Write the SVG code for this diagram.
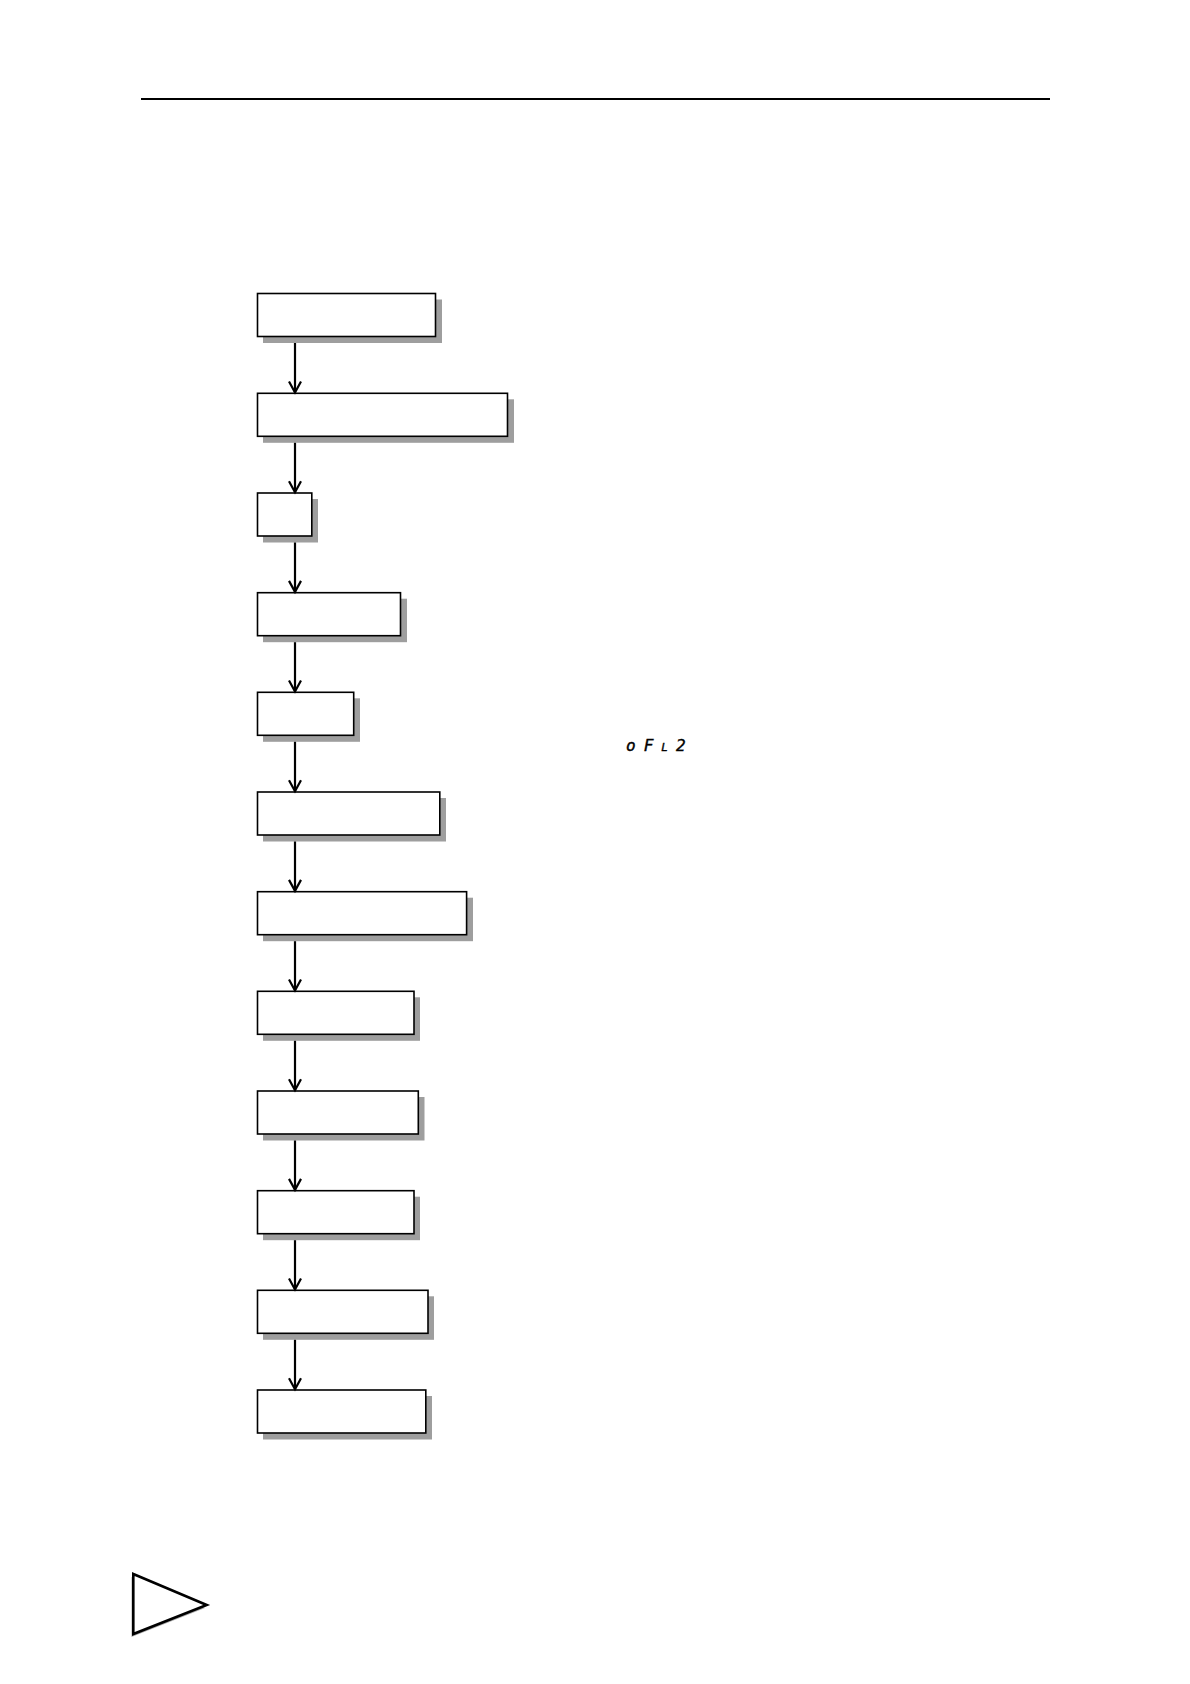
<svg xmlns="http://www.w3.org/2000/svg" width="1190" height="1684" viewBox="0 0 1190 1684">
<defs>
<style>
.box{fill:#fff;stroke:#000;stroke-width:1.6}
.sh{fill:#9e9e9e}
.conn{stroke:#000;stroke-width:2.2;fill:none}
.seg{font-family:"DejaVu Sans Mono","Liberation Mono",monospace;font-style:italic;font-size:16px;fill:#000}
</style>
<marker id="ah" markerUnits="userSpaceOnUse" markerWidth="16" markerHeight="16" viewBox="-13 -8 16 16" refX="0" refY="0" orient="auto" overflow="visible">
<polyline points="-11,-6 0,0 -11,6" fill="none" stroke="#000" stroke-width="2.2"/>
</marker>
</defs>
<rect width="1190" height="1684" fill="#fff"/>
<line x1="141" y1="99" x2="1050" y2="99" stroke="#000" stroke-width="2.2"/>
<g id="n1"><rect class="sh" x="263" y="299.5" width="179" height="43.5"/><rect class="box" x="257.5" y="293.5" width="178" height="43"/></g>
<g id="n2"><rect class="sh" x="263" y="399.3" width="251" height="43.5"/><rect class="box" x="257.5" y="393.3" width="250" height="43"/></g>
<g id="n3"><rect class="sh" x="263" y="499" width="55" height="43.5"/><rect class="box" x="257.5" y="493" width="54.3" height="43"/></g>
<g id="n4"><rect class="sh" x="263" y="598.7" width="144" height="43.5"/><rect class="box" x="257.5" y="592.7" width="143" height="43"/></g>
<g id="n5"><rect class="sh" x="263" y="698.3" width="97" height="43.5"/><rect class="box" x="257.5" y="692.3" width="96.2" height="43"/></g>
<g id="n6"><rect class="sh" x="263" y="798" width="183" height="43.5"/><rect class="box" x="257.5" y="792" width="182.3" height="43"/></g>
<g id="n7"><rect class="sh" x="263" y="897.7" width="210" height="43.5"/><rect class="box" x="257.5" y="891.7" width="209.1" height="43"/></g>
<g id="n8"><rect class="sh" x="263" y="997.3" width="157" height="43.5"/><rect class="box" x="257.5" y="991.3" width="156.5" height="43"/></g>
<g id="n9"><rect class="sh" x="263" y="1097" width="161.5" height="43.5"/><rect class="box" x="257.5" y="1091" width="160.8" height="43"/></g>
<g id="n10"><rect class="sh" x="263" y="1196.7" width="157" height="43.5"/><rect class="box" x="257.5" y="1190.7" width="156.5" height="43"/></g>
<g id="n11"><rect class="sh" x="263" y="1296.3" width="171" height="43.5"/><rect class="box" x="257.5" y="1290.3" width="170.5" height="43"/></g>
<g id="n12"><rect class="sh" x="263" y="1396" width="169" height="43.5"/><rect class="box" x="257.5" y="1390" width="168.3" height="43"/></g>
<g id="connectors">
<line class="conn" x1="295" y1="343" x2="295" y2="392.5" marker-end="url(#ah)"/>
<line class="conn" x1="295" y1="442.8" x2="295" y2="492.2" marker-end="url(#ah)"/>
<line class="conn" x1="295" y1="542.5" x2="295" y2="591.9" marker-end="url(#ah)"/>
<line class="conn" x1="295" y1="642.2" x2="295" y2="691.5" marker-end="url(#ah)"/>
<line class="conn" x1="295" y1="741.8" x2="295" y2="791.2" marker-end="url(#ah)"/>
<line class="conn" x1="295" y1="841.5" x2="295" y2="890.9" marker-end="url(#ah)"/>
<line class="conn" x1="295" y1="941.2" x2="295" y2="990.5" marker-end="url(#ah)"/>
<line class="conn" x1="295" y1="1040.8" x2="295" y2="1090.2" marker-end="url(#ah)"/>
<line class="conn" x1="295" y1="1140.5" x2="295" y2="1189.9" marker-end="url(#ah)"/>
<line class="conn" x1="295" y1="1240.2" x2="295" y2="1289.5" marker-end="url(#ah)"/>
<line class="conn" x1="295" y1="1339.8" x2="295" y2="1389.2" marker-end="url(#ah)"/>
</g>
<text class="seg" x="626" y="751" letter-spacing="8" stroke="#000" stroke-width="0.4">oF<tspan font-size="11">L</tspan>2</text>
<g id="triangle">
<polygon points="131.5,1577 205,1608 131.5,1637" fill="#aaa"/>
<polygon points="133.3,1574 206.7,1605 133.3,1634" fill="#fff" stroke="#000" stroke-width="2.6" stroke-linejoin="miter"/>
</g>
</svg>
